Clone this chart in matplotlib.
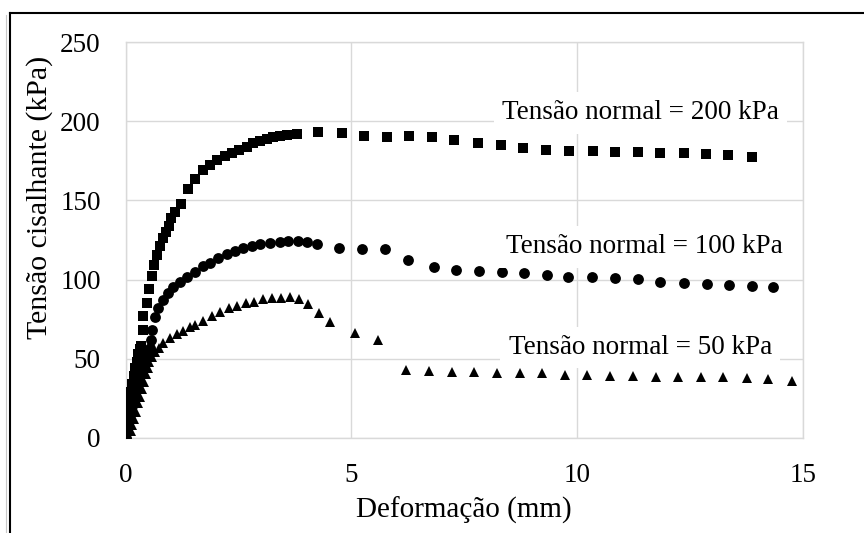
import matplotlib
matplotlib.use("Agg")
import matplotlib.pyplot as plt
from matplotlib.lines import Line2D

# deformacao (mm) e tensao cisalhante (kPa) para cada tensao normal
def_200 = [0, 0.02, 0.04, 0.06, 0.08, 0.10, 0.12, 0.15, 0.18, 0.21,
           0.24, 0.28, 0.32, 0.35, 0.38, 0.39, 0.47, 0.52, 0.58, 0.63,
           0.70, 0.76, 0.82, 0.89, 0.95, 1.00, 1.10, 1.23, 1.37, 1.54,
           1.71, 1.87, 2.02, 2.20, 2.35, 2.50, 2.68, 2.83, 2.98, 3.12,
           3.27, 3.42, 3.57, 3.79, 4.27, 4.79, 5.29, 5.78, 6.28, 6.78,
           7.28, 7.80, 8.31, 8.81, 9.31, 9.82, 10.35, 10.84, 11.34, 11.84,
           12.36, 12.86, 13.35, 13.87]
tau_200 = [0, 4, 9, 14, 19, 24, 29, 34, 39, 44,
           48, 53, 56, 58, 68, 77, 85, 94, 102, 109,
           115.5, 121, 126, 130, 134, 139, 143, 148, 157, 163.6,
           169.3, 172.4, 175.6, 178.1, 179.8, 181.9, 184.0, 186.1, 187.8, 188.7,
           189.9, 190.8, 191.4, 192.0, 193.1, 192.8, 190.8, 190.3, 190.9, 190.3,
           188.2, 186.5, 185.1, 183.4, 181.9, 181.5, 181.1, 180.9, 180.7, 180.3,
           179.9, 179.4, 178.6, 177.7]

def_100 = [0, 0.03, 0.06, 0.09, 0.12, 0.15, 0.18, 0.21, 0.25, 0.29,
           0.33, 0.37, 0.41, 0.45, 0.50, 0.54, 0.56, 0.58, 0.65, 0.72,
           0.83, 0.94, 1.05, 1.20, 1.35, 1.54, 1.72, 1.87, 2.05, 2.24,
           2.42, 2.61, 2.79, 2.98, 3.20, 3.42, 3.60, 3.82, 4.01, 4.23,
           4.73, 5.24, 5.75, 6.26, 6.82, 7.32, 7.83, 8.33, 8.83, 9.34,
           9.81, 10.33, 10.84, 11.36, 11.84, 12.37, 12.87, 13.37, 13.87, 14.35]
tau_100 = [0, 4, 8, 12, 16, 20, 24, 28, 32, 36,
           40, 44, 48, 51, 54, 56.5, 62, 68.1, 76.5, 81.8,
           87.1, 91.3, 95.5, 98.6, 101.8, 105.0, 108.8, 110.7, 113.4, 116.2,
           118.2, 119.7, 121.4, 122.5, 123.3, 123.9, 124.4, 124.2, 123.5, 122.5,
           119.8, 119.1, 119.1, 112.4, 108.1, 106.0, 105.4, 104.6, 103.9, 102.9,
           101.8, 101.4, 100.8, 100.3, 98.6, 97.6, 97.0, 96.6, 95.9, 95.5]

def_50 = [0, 0.06, 0.11, 0.15, 0.19, 0.23, 0.28, 0.32, 0.37, 0.41,
          0.45, 0.49, 0.52, 0.58, 0.65, 0.74, 0.83, 0.98, 1.13, 1.28,
          1.42, 1.54, 1.72, 1.91, 2.09, 2.29, 2.47, 2.66, 2.85, 3.05,
          3.25, 3.44, 3.64, 3.84, 4.05, 4.29, 4.52, 5.08, 5.60, 6.21,
          6.71, 7.22, 7.72, 8.22, 8.74, 9.22, 9.74, 10.23, 10.73, 11.23,
          11.74, 12.24, 12.74, 13.24, 13.76, 14.24, 14.76]
tau_50 = [0, 1, 4, 8, 12, 16, 22, 26, 31, 35,
          40, 44, 48, 51, 54.4, 57, 59.7, 62.8, 65.6, 67.5,
          69.8, 71.3, 74.0, 77.0, 79.7, 81.8, 83.5, 85.0, 86.0, 87.5,
          88.1, 88.1, 88.8, 87.5, 84.3, 79.0, 73.3, 66.0, 61.8, 42.8,
          42.4, 41.7, 41.7, 41.1, 40.7, 40.7, 39.6, 39.6, 39.2, 39.2,
          38.6, 38.6, 38.2, 38.2, 37.6, 37.1, 36.0]

labels = ["Tensão normal = 200 kPa", "Tensão normal = 100 kPa", "Tensão normal = 50 kPa"]
label_xy = [(11.4, 205.3), (11.5, 120.6), (11.4, 56.8)]

x_ticks = [0, 5, 10, 15]
y_ticks = [0, 50, 100, 150, 200, 250]

plt.rcParams['font.family'] = ['Liberation Serif', 'DejaVu Serif']

W, H = 864, 533
fig = plt.figure(figsize=(W / 100, H / 100), dpi=100)
ax = fig.add_axes([125.7 / W, 1 - 437.7 / H, (802.7 - 125.7) / W, (437.7 - 42.3) / H])

ax.plot(def_200, tau_200, 's', color='black', ms=7.6, mew=0, zorder=3)
ax.plot(def_100, tau_100, 'o', color='black', ms=7.8, mew=0, zorder=3)
ax.plot(def_50, tau_50, '^', color='black', ms=7.5, mew=0, zorder=3)

for txt, (tx, ty) in zip(labels, label_xy):
    ax.text(tx, ty, txt, ha='center', va='center', fontsize=19.5, zorder=4,
            bbox=dict(boxstyle='square,pad=0.3', fc='white', ec='none'))

ax.set_xlim(0, 15)
ax.set_ylim(0, 250)
ax.set_xticks(x_ticks)
ax.set_yticks(y_ticks)
ax.grid(True, color='#d9d9d9', lw=1.0, zorder=0)
ax.set_axisbelow(True)
for s in ax.spines.values():
    s.set_color('#d9d9d9')
    s.set_linewidth(1.0)
ax.tick_params(length=0, labelsize=19.5, pad=18)

fig.text(464 / W, 1 - 510 / H, "Deformação (mm)", ha='center', va='center', fontsize=21)
fig.text(40 / W, 1 - 197 / H, "Tensão cisalhante (kPa)", ha='center', va='center',
         rotation=90, fontsize=21.5)

# moldura da caixa do grafico
fig.add_artist(Line2D([6 / W, 6 / W], [0, 1 - 15 / H], color='#c8c8c8', lw=0.8))
fig.add_artist(Line2D([10 / W, 10 / W], [0, 1 - 13 / H], color='black', lw=1.5))
fig.add_artist(Line2D([10 / W, 1], [1 - 13 / H, 1 - 13 / H], color='black', lw=1.5))

fig.savefig("out.png", dpi=100)
